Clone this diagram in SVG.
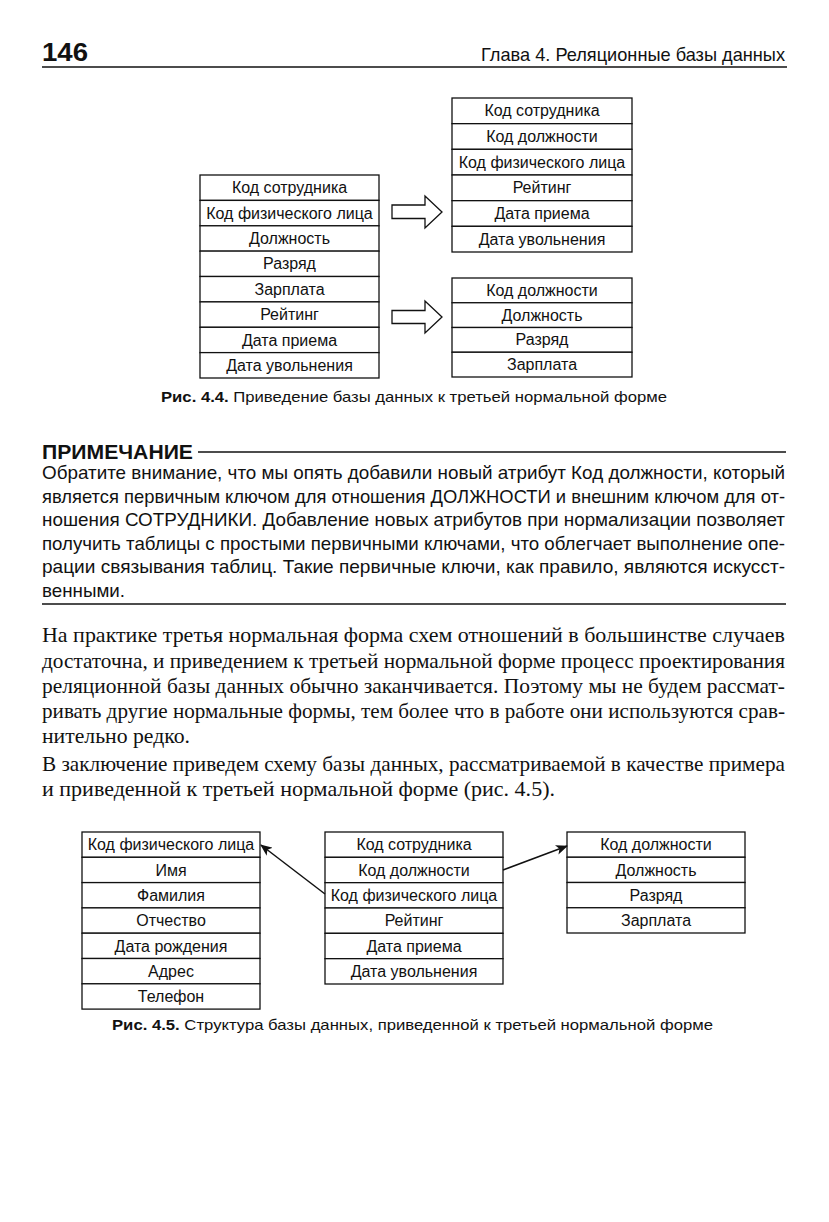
<svg xmlns="http://www.w3.org/2000/svg" width="829" height="1222" viewBox="0 0 829 1222">
<defs>
<style>
.bg{fill:#ffffff}
.cell{fill:#ffffff;stroke:#111;stroke-width:1.3}
.t{font-family:"Liberation Sans",Arial,sans-serif;font-size:16px;fill:#111;text-anchor:middle}
.note{font-family:"Liberation Sans",Arial,sans-serif;font-size:19px;fill:#111}
.body{font-family:"Liberation Serif","Times New Roman",serif;font-size:21.5px;fill:#111}
.cap{font-family:"Liberation Sans",Arial,sans-serif;font-size:15px;fill:#111}
.rule{stroke:#111;stroke-width:1.5}
.blk{fill:#fff;stroke:#111;stroke-width:1.3}
.con{stroke:#111;stroke-width:1.5;fill:none}
</style>
<marker id="ah" viewBox="0 0 12 10" refX="11" refY="5" markerWidth="12" markerHeight="10" markerUnits="userSpaceOnUse" orient="auto">
<path d="M0,0 L12,5 L0,10 L3,5 Z" fill="#111"/>
</marker>
</defs>
<rect class="bg" x="0" y="0" width="829" height="1222"/>

<g id="header">
<text x="42" y="61" font-family="Liberation Sans,Arial,sans-serif" font-size="26" font-weight="bold" fill="#111" textLength="46" lengthAdjust="spacingAndGlyphs">146</text>
<text x="481" y="61" font-family="Liberation Sans,Arial,sans-serif" font-size="19" fill="#111" textLength="304" lengthAdjust="spacingAndGlyphs">Глава 4. Реляционные базы данных</text>
<line class="rule" x1="42" y1="67" x2="787" y2="67"/>
</g>

<!-- Figure 4.4 -->
<g id="fig44-source">
<rect class="cell" x="200" y="175" width="179" height="25.4"/>
<rect class="cell" x="200" y="200.4" width="179" height="25.4"/>
<rect class="cell" x="200" y="225.8" width="179" height="25.4"/>
<rect class="cell" x="200" y="251.1" width="179" height="25.4"/>
<rect class="cell" x="200" y="276.5" width="179" height="25.4"/>
<rect class="cell" x="200" y="301.9" width="179" height="25.4"/>
<rect class="cell" x="200" y="327.3" width="179" height="25.4"/>
<rect class="cell" x="200" y="352.6" width="179" height="25.4"/>
<text class="t" x="289.5" y="193.3">Код сотрудника</text>
<text class="t" x="289.5" y="218.7">Код физического лица</text>
<text class="t" x="289.5" y="244.1">Должность</text>
<text class="t" x="289.5" y="269.4">Разряд</text>
<text class="t" x="289.5" y="294.8">Зарплата</text>
<text class="t" x="289.5" y="320.2">Рейтинг</text>
<text class="t" x="289.5" y="345.6">Дата приема</text>
<text class="t" x="289.5" y="370.9">Дата увольнения</text>
</g>

<g id="fig44-employees">
<rect class="cell" x="452" y="98" width="180" height="25.67"/>
<rect class="cell" x="452" y="123.67" width="180" height="25.67"/>
<rect class="cell" x="452" y="149.33" width="180" height="25.67"/>
<rect class="cell" x="452" y="175" width="180" height="25.67"/>
<rect class="cell" x="452" y="200.67" width="180" height="25.67"/>
<rect class="cell" x="452" y="226.33" width="180" height="25.67"/>
<text class="t" x="542" y="116.3">Код сотрудника</text>
<text class="t" x="542" y="142">Код должности</text>
<text class="t" x="542" y="167.6">Код физического лица</text>
<text class="t" x="542" y="193.3">Рейтинг</text>
<text class="t" x="542" y="219">Дата приема</text>
<text class="t" x="542" y="244.6">Дата увольнения</text>
</g>

<g id="fig44-positions">
<rect class="cell" x="452" y="278" width="180" height="24.75"/>
<rect class="cell" x="452" y="302.75" width="180" height="24.75"/>
<rect class="cell" x="452" y="327.5" width="180" height="24.75"/>
<rect class="cell" x="452" y="352.25" width="180" height="24.75"/>
<text class="t" x="542" y="295.8">Код должности</text>
<text class="t" x="542" y="320.5">Должность</text>
<text class="t" x="542" y="345.3">Разряд</text>
<text class="t" x="542" y="370">Зарплата</text>
</g>

<g id="fig44-arrows">
<polygon class="blk" points="392,205 425,205 425,196 442,212 425,228 425,218.5 392,218.5"/>
<polygon class="blk" points="392,310.5 425,310.5 425,301 442,317 425,333 425,323.5 392,323.5"/>
</g>

<g id="caption44">
<text class="cap" x="161" y="402" textLength="506" lengthAdjust="spacingAndGlyphs"><tspan font-weight="bold">Рис. 4.4.</tspan> Приведение базы данных к третьей нормальной форме</text>
</g>

<g id="note">
<text x="42" y="459" font-family="Liberation Sans,Arial,sans-serif" font-size="20.5" font-weight="bold" fill="#111" textLength="151" lengthAdjust="spacingAndGlyphs">ПРИМЕЧАНИЕ</text>
<line class="rule" x1="198" y1="452" x2="786" y2="452"/>
<text class="note" x="42" y="479" textLength="743" lengthAdjust="spacingAndGlyphs">Обратите внимание, что мы опять добавили новый атрибут Код должности, который</text>
<text class="note" x="42" y="502.5" textLength="743" lengthAdjust="spacingAndGlyphs">является первичным ключом для отношения ДОЛЖНОСТИ и внешним ключом для от-</text>
<text class="note" x="42" y="526" textLength="743" lengthAdjust="spacingAndGlyphs">ношения СОТРУДНИКИ. Добавление новых атрибутов при нормализации позволяет</text>
<text class="note" x="42" y="549.5" textLength="743" lengthAdjust="spacingAndGlyphs">получить таблицы с простыми первичными ключами, что облегчает выполнение опе-</text>
<text class="note" x="42" y="573" textLength="743" lengthAdjust="spacingAndGlyphs">рации связывания таблиц. Такие первичные ключи, как правило, являются искусст-</text>
<text class="note" x="42" y="596.5" textLength="83" lengthAdjust="spacingAndGlyphs">венными.</text>
<line class="rule" x1="42" y1="604" x2="786" y2="604"/>
</g>

<g id="body">
<text class="body" x="42" y="642" textLength="743" lengthAdjust="spacingAndGlyphs">На практике третья нормальная форма схем отношений в большинстве случаев</text>
<text class="body" x="42" y="667.5" textLength="743" lengthAdjust="spacingAndGlyphs">достаточна, и приведением к третьей нормальной форме процесс проектирования</text>
<text class="body" x="42" y="693" textLength="743" lengthAdjust="spacingAndGlyphs">реляционной базы данных обычно заканчивается. Поэтому мы не будем рассмат-</text>
<text class="body" x="42" y="718" textLength="743" lengthAdjust="spacingAndGlyphs">ривать другие нормальные формы, тем более что в работе они используются срав-</text>
<text class="body" x="42" y="743" textLength="148" lengthAdjust="spacingAndGlyphs">нительно редко.</text>
<text class="body" x="42" y="771" textLength="743" lengthAdjust="spacingAndGlyphs">В заключение приведем схему базы данных, рассматриваемой в качестве примера</text>
<text class="body" x="42" y="796" textLength="513" lengthAdjust="spacingAndGlyphs">и приведенной к третьей нормальной форме (рис. 4.5).</text>
</g>

<!-- Figure 4.5 -->
<g id="fig45-persons">
<rect class="cell" x="82" y="832" width="178" height="25.3"/>
<rect class="cell" x="82" y="857.3" width="178" height="25.3"/>
<rect class="cell" x="82" y="882.6" width="178" height="25.3"/>
<rect class="cell" x="82" y="907.9" width="178" height="25.3"/>
<rect class="cell" x="82" y="933.2" width="178" height="25.3"/>
<rect class="cell" x="82" y="958.5" width="178" height="25.3"/>
<rect class="cell" x="82" y="983.8" width="178" height="25.3"/>
<text class="t" x="171" y="850.3">Код физического лица</text>
<text class="t" x="171" y="875.6">Имя</text>
<text class="t" x="171" y="900.9">Фамилия</text>
<text class="t" x="171" y="926.2">Отчество</text>
<text class="t" x="171" y="951.5">Дата рождения</text>
<text class="t" x="171" y="976.8">Адрес</text>
<text class="t" x="171" y="1002.1">Телефон</text>
</g>

<g id="fig45-employees">
<rect class="cell" x="325" y="832" width="178" height="25.33"/>
<rect class="cell" x="325" y="857.33" width="178" height="25.33"/>
<rect class="cell" x="325" y="882.67" width="178" height="25.33"/>
<rect class="cell" x="325" y="908" width="178" height="25.33"/>
<rect class="cell" x="325" y="933.33" width="178" height="25.33"/>
<rect class="cell" x="325" y="958.67" width="178" height="25.33"/>
<text class="t" x="414" y="850.3">Код сотрудника</text>
<text class="t" x="414" y="875.6">Код должности</text>
<text class="t" x="414" y="901">Код физического лица</text>
<text class="t" x="414" y="926.3">Рейтинг</text>
<text class="t" x="414" y="951.6">Дата приема</text>
<text class="t" x="414" y="977">Дата увольнения</text>
</g>

<g id="fig45-positions">
<rect class="cell" x="567" y="832" width="178" height="25.25"/>
<rect class="cell" x="567" y="857.25" width="178" height="25.25"/>
<rect class="cell" x="567" y="882.5" width="178" height="25.25"/>
<rect class="cell" x="567" y="907.75" width="178" height="25.25"/>
<text class="t" x="656" y="850.3">Код должности</text>
<text class="t" x="656" y="875.6">Должность</text>
<text class="t" x="656" y="900.8">Разряд</text>
<text class="t" x="656" y="926.1">Зарплата</text>
</g>

<g id="connectors">
<line class="con" x1="325" y1="894" x2="261" y2="845" marker-end="url(#ah)"/>
<line class="con" x1="503" y1="870" x2="567" y2="846" marker-end="url(#ah)"/>
</g>

<g id="caption45">
<text class="cap" x="112" y="1030" textLength="601" lengthAdjust="spacingAndGlyphs"><tspan font-weight="bold">Рис. 4.5.</tspan> Структура базы данных, приведенной к третьей нормальной форме</text>
</g>
</svg>
